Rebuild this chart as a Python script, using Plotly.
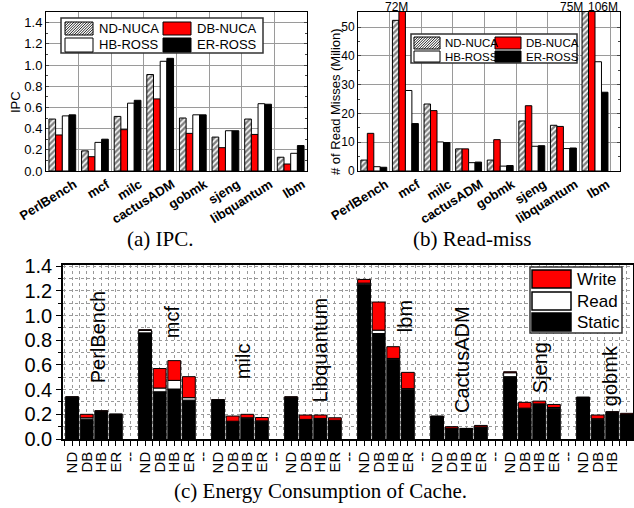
import plotly.graph_objects as go

W, H = 634, 508

# ---------------- data: (a) IPC and (b) read misses ----------------
benchmarks = ["PerlBench", "mcf", "milc", "cactusADM", "gobmk", "sjeng", "libquantum", "lbm"]
schemes = ["ND-NUCA", "DB-NUCA", "HB-ROSS", "ER-ROSS"]

ipc_nd = [0.49, 0.19, 0.515, 0.91, 0.50, 0.32, 0.49, 0.13]
ipc_db = [0.34, 0.135, 0.39, 0.68, 0.355, 0.22, 0.345, 0.066]
ipc_hb = [0.52, 0.27, 0.64, 1.035, 0.53, 0.38, 0.635, 0.167]
ipc_er = [0.53, 0.30, 0.667, 1.063, 0.53, 0.38, 0.63, 0.24]

miss_nd = [3.8, 52.4, 23.3, 7.7, 3.8, 17.4, 15.9, 75]
miss_db = [13.1, 72, 21.0, 7.7, 10.9, 22.7, 15.5, 106]
miss_hb = [1.5, 28.0, 10.1, 2.9, 1.7, 8.6, 7.8, 38.0]
miss_er = [1.3, 16.5, 9.9, 3.1, 1.9, 8.8, 8.0, 27.4]

# ---------------- data: (c) energy ----------------
energy_groups = ["PerlBench", "mcf", "milc", "Libquantum", "lbm", "CactusADM", "Sjeng", "gobmk"]
energy_schemes = ["ND", "DB", "HB", "ER"]
energy_static = [0.335, 0.16, 0.222, 0.198,
                 0.86, 0.383, 0.405, 0.315,
                 0.312, 0.14, 0.168, 0.143,
                 0.335, 0.155, 0.163, 0.148,
                 1.255, 0.855, 0.645, 0.40,
                 0.18, 0.085, 0.082, 0.095,
                 0.505, 0.245, 0.28, 0.25,
                 0.332, 0.16, 0.215, 0.195]
energy_read = [0.005, 0.012, 0.004, 0.002,
               0.02, 0.03, 0.07, 0.02,
               0.004, 0.004, 0.004, 0.004,
               0.004, 0.004, 0.004, 0.004,
               0.008, 0.027, 0.008, 0.008,
               0.003, 0.003, 0.002, 0.003,
               0.032, 0.005, 0.005, 0.005,
               0.004, 0.004, 0.003, 0.003]
energy_write = [0.002, 0.028, 0.003, 0.002,
                0.006, 0.158, 0.16, 0.17,
                0.003, 0.042, 0.028, 0.027,
                0.003, 0.035, 0.027, 0.02,
                0.03, 0.228, 0.095, 0.132,
                0.003, 0.012, 0.002, 0.012,
                0.008, 0.047, 0.022, 0.025,
                0.004, 0.03, 0.003, 0.01]

# ---------------- styling ----------------
SANS = "Liberation Sans, Arial, sans-serif"
SERIF = "Liberation Serif, Times New Roman, serif"
RED = "#ff0000"
hatch = dict(shape="/", fgcolor="#000000", bgcolor="white", size=4, solidity=0.6)
outline = dict(color="black", width=1)

fig = go.Figure()

ipc_series = [ipc_nd, ipc_db, ipc_hb, ipc_er]
miss_series = [miss_nd, miss_db, miss_hb, miss_er]
fills = ["white", RED, "white", "black"]

for k, name in enumerate(schemes):
    m = dict(color=fills[k], line=outline)
    if k == 0:
        m["pattern"] = hatch
    fig.add_trace(go.Bar(x=benchmarks, y=ipc_series[k], name=name, marker=m,
                         xaxis="x", yaxis="y", showlegend=False))
for k, name in enumerate(schemes):
    m = dict(color=fills[k], line=outline)
    if k == 0:
        m["pattern"] = hatch
    fig.add_trace(go.Bar(x=benchmarks, y=miss_series[k], name=name, marker=m,
                         xaxis="x2", yaxis="y2", showlegend=False))

# (c) stacked via base, all in same offsetgroup
xpos, tickvals, ticktext = [], [], []
for g in range(len(energy_groups)):
    for b, s in enumerate(energy_schemes):
        xpos.append(g * 5 + b)
        tickvals.append(g * 5 + b)
        ticktext.append(s)
    if g < len(energy_groups) - 1:
        tickvals.append(g * 5 + 4)
        ticktext.append("--")

base_read = [s for s in energy_static]
base_write = [s + r for s, r in zip(energy_static, energy_read)]
for name, vals, base, col in [("Static", energy_static, None, "black"),
                              ("Read", energy_read, base_read, "white"),
                              ("Write", energy_write, base_write, RED)]:
    fig.add_trace(go.Bar(x=xpos, y=vals, base=base, name=name, width=0.88,
                         offsetgroup="c", marker=dict(color=col, line=dict(color="black", width=1)),
                         xaxis="x3", yaxis="y3", showlegend=False))

# ---------------- helpers ----------------
def px(x):
    return x / W

def py(y):
    return 1 - y / H

shapes = []
annotations = []

def rect(x0, y0, x1, y1, fill, lw=1, lc="black"):
    shapes.append(dict(type="rect", xref="paper", yref="paper", x0=px(x0), x1=px(x1),
                       y0=py(y1), y1=py(y0), fillcolor=fill, line=dict(color=lc, width=lw),
                       layer="above"))

def hatched(x0, y0, x1, y1, step=2.6):
    rect(x0, y0, x1, y1, "white", lw=0, lc="rgba(0,0,0,0)")
    parts = []
    k = x0 + y0 + step / 2
    while k < x1 + y1:
        xa = max(x0, k - y1)
        xb = min(x1, k - y0)
        if xb > xa:
            parts.append("M%.5f,%.5f L%.5f,%.5f" % (px(xa), py(k - xa), px(xb), py(k - xb)))
        k += step
    shapes.append(dict(type="path", xref="paper", yref="paper", path=" ".join(parts),
                       line=dict(color="#222222", width=1), layer="above"))
    rect(x0, y0, x1, y1, "rgba(0,0,0,0)")

def text(x, y, s, size, anchor="left", font=SANS, angle=0, yanchor="middle", weight="normal"):
    annotations.append(dict(xref="paper", yref="paper", x=px(x), y=py(y), text=s, showarrow=False,
                            xanchor=anchor, yanchor=yanchor, textangle=angle,
                            font=dict(family=font, size=size, color="black", weight=weight)))

def legend4(box, sw, col2, rows, txt_off, size):
    rect(box[0], box[1], box[2], box[3], "white", lw=1.5, lc="#333333")
    fills_ = [None, RED, "white", "black"]
    for k, name in enumerate(schemes):
        cx = sw[0] if k % 2 == 0 else col2
        y0, y1 = rows[k // 2]
        x1 = cx + (sw[1] - sw[0])
        if k == 0:
            hatched(cx, y0, x1, y1)
        else:
            rect(cx, y0, x1, y1, fills_[k])
        text(x1 + txt_off, (y0 + y1) / 2, name, size)

# legends (a) & (b)
legend4((61, 18, 263, 53), (65, 93), 163, [(22, 35), (38, 52)], 4, 13)
legend4((411, 34, 577, 63), (414, 440), 495, [(37, 49), (51, 62)], 3, 11.5)

# legend (c)
rect(530, 267, 622, 333, "white", lw=1.5, lc="#333333")
for (name, col), (y0, y1) in zip([("Write", RED), ("Read", "white"), ("Static", "black")],
                                 [(270, 288), (292, 310), (313, 331)]):
    rect(532, y0, 571, y1, col, lw=1.5)
    text(575, (y0 + y1) / 2, name, 17)

# axis titles
text(16, 102, "IPC", 13, anchor="center", angle=-90)
text(336, 102, "# of Read Misses (Milion)", 13, anchor="center", angle=-90)

# captions
text(160, 239, "(a) IPC.", 21, anchor="center", font=SERIF)
text(472, 239, "(b) Read-miss", 21, anchor="center", font=SERIF)
text(320, 491, "(c) Energy Consumption of Cache.", 21, anchor="center", font=SERIF)

# clipped bar values in (b)
for lbl, cat, sh, xa in [("72M", "mcf", -9, "center"), ("75M", "lbm", -10, "right"),
                         ("106M", "lbm", -9, "left")]:
    annotations.append(dict(xref="x2", yref="paper", x=cat, y=py(7), text=lbl, showarrow=False,
                            xanchor=xa, yanchor="middle", xshift=sh,
                            font=dict(family=SANS, size=12, color="black")))

# group names in (c)
group_label_pos = [(1.78, 0.825), (6.85, 0.947), (11.7, 0.63), (17.0, 0.72),
                   (22.8, 0.995), (26.7, 0.647), (32.05, 0.574), (36.85, 0.51)]
for name, (gx, gy) in zip(energy_groups, group_label_pos):
    annotations.append(dict(xref="x3", yref="y3", x=gx, y=gy, text=name, showarrow=False,
                            textangle=-90, xanchor="center", yanchor="middle",
                            font=dict(family=SANS, size=20, color="black")))

grid_a = "#9a9a9a"
common_x = dict(showline=True, linecolor="black", linewidth=1, mirror=True, automargin=False,
                tickson="boundaries", showgrid=True, gridcolor=grid_a, gridwidth=1,
                ticks="", tickangle=-32, ticklabelshift=12,
                tickfont=dict(family=SANS, size=13, color="black", weight="bold"))

fig.update_layout(
    width=W, height=H,
    margin=dict(l=0, r=0, t=0, b=0, autoexpand=False),
    paper_bgcolor="white", plot_bgcolor="white",
    barmode="group", bargap=0.18, bargroupgap=0,
    showlegend=False,
    shapes=shapes, annotations=annotations,
    xaxis=dict(domain=[px(46), px(307)], anchor="y", **common_x),
    yaxis=dict(domain=[py(171), py(12)], anchor="x", range=[0, 1.5], automargin=False,
               tickvals=[0, 0.2, 0.4, 0.6, 0.8, 1.0, 1.2, 1.4], tickformat=".1f",
               showline=True, linecolor="black", mirror="ticks", ticks="inside", ticklen=3,
               showgrid=True, gridcolor=grid_a, zeroline=False,
               minor=dict(dtick=0.1, ticks="inside", ticklen=2, showgrid=False),
               tickfont=dict(family=SANS, size=13, color="black")),
    xaxis2=dict(domain=[px(358), px(620)], anchor="y2", **common_x),
    yaxis2=dict(domain=[py(171), py(12)], anchor="x2", range=[0, 55.3], automargin=False,
                tickvals=[0, 10, 20, 30, 40, 50],
                showline=True, linecolor="black", mirror="ticks", ticks="inside", ticklen=3,
                showgrid=True, gridcolor=grid_a, zeroline=False,
                minor=dict(dtick=5, ticks="inside", ticklen=2, showgrid=False),
                tickfont=dict(family=SANS, size=12, color="black")),
    xaxis3=dict(domain=[px(63), px(633)], anchor="y3", range=[-0.62, 38.42], automargin=False,
                tickmode="array", tickvals=tickvals, ticktext=ticktext, tickangle=-90,
                showline=True, linecolor="black", linewidth=1.5, mirror=True,
                ticks="outside", ticklen=5, tickcolor="black",
                showgrid=True, gridcolor="#999999", griddash="dot", zeroline=False,
                minor=dict(tick0=0.5, dtick=1, ticks="outside", ticklen=5, tickcolor="black",
                           showgrid=True, gridcolor="#999999", griddash="dot"),
                tickfont=dict(family=SANS, size=15, color="black")),
    yaxis3=dict(domain=[py(439), py(265)], anchor="x3", range=[0, 1.41], automargin=False,
                tickvals=[0, 0.2, 0.4, 0.6, 0.8, 1.0, 1.2, 1.4], tickformat=".1f",
                showline=True, linecolor="black", linewidth=1.5, mirror="ticks",
                ticks="outside", ticklen=5, tickcolor="black",
                showgrid=True, gridcolor="#999999", griddash="dot", zeroline=False,
                minor=dict(dtick=0.1, ticks="outside", ticklen=3, showgrid=True,
                           gridcolor="#999999", griddash="dot"),
                tickfont=dict(family=SANS, size=20, color="black")),
)

fig.write_html("out.html", config={"displayModeBar": False})

# remove the browser's default 8px body margin so the figure sits at the page origin
with open("out.html", "r", encoding="utf-8") as f:
    html = f.read()
html = html.replace("<body>", '<body style="margin:0;padding:0;overflow:hidden">', 1)
with open("out.html", "w", encoding="utf-8") as f:
    f.write(html)
